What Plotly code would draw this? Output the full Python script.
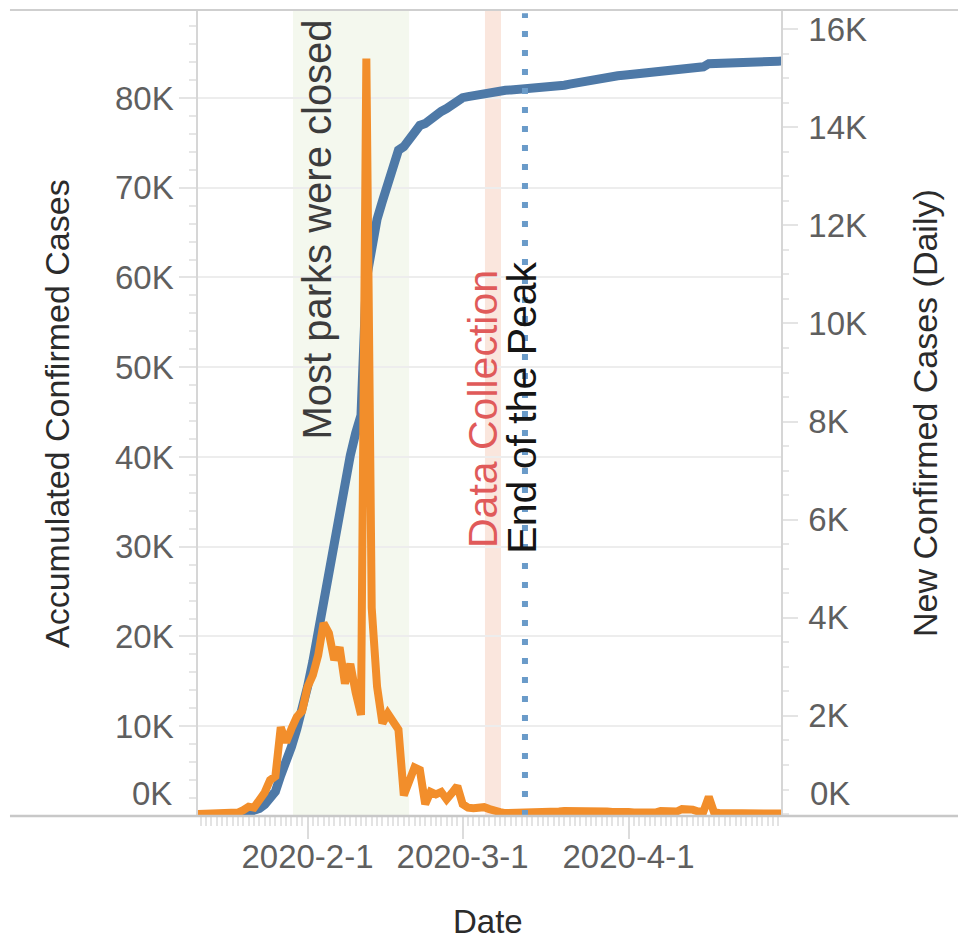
import pandas as pd
import plotly.graph_objects as go

# ---------------- data (values in thousands) ----------------
dates = pd.date_range("2020-01-11", "2020-04-30", freq="D")

new_jan = [0, 0, 0, 0, 0, 0.01, 0.01, 0.02, 0.03, 0.08, 0.15, 0.13, 0.26, 0.44,
           0.69, 0.77, 1.77, 1.46, 1.74, 1.98, 2.10]
new_feb = [2.59, 2.83, 3.24, 3.89, 3.69, 3.14, 3.40, 2.66, 3.06, 2.48, 2.02, 15.4,
           4.2, 2.6, 1.85, 2.05, 1.89, 1.72, 0.38, 0.7, 0.95, 0.9, 0.2, 0.45, 0.4,
           0.45, 0.3, 0.43, 0.57]
new_mar = [0.2, 0.13, 0.12, 0.14, 0.14, 0.1, 0.05, 0.04, 0.02, 0.02, 0.02, 0.01,
           0.01, 0.02, 0.02, 0.02, 0.02, 0.04, 0.05, 0.06, 0.06, 0.05, 0.09, 0.06,
           0.08, 0.07, 0.06, 0.05, 0.04, 0.05, 0.04]
new_apr = [0.04, 0.03, 0.02, 0.03, 0.04, 0.03, 0.06, 0.06, 0.04, 0.05, 0.1, 0.11,
           0.09, 0.05, 0.05, 0.35, 0.03, 0.02, 0.02, 0.01, 0.03, 0.01, 0.01, 0.01,
           0.01, 0.01, 0.01, 0.02, 0.01, 0.01]

acc_jan = [0.04, 0.04, 0.04, 0.04, 0.04, 0.05, 0.06, 0.12, 0.2, 0.29, 0.44, 0.57,
           0.83, 1.29, 1.98, 2.74, 4.52, 5.97, 7.71, 9.69, 11.79]
acc_feb = [14.38, 17.21, 20.44, 24.32, 28.02, 31.16, 34.55, 37.2, 40.17, 42.64,
           44.65, 59.8, 63.85, 66.49, 68.5, 70.55, 72.44, 74.19, 74.58, 75.47,
           76.29, 76.94, 77.15, 77.66, 78.06, 78.5, 78.82, 79.25, 79.82]
acc_mar = [80.03, 80.15, 80.27, 80.41, 80.55, 80.68, 80.77, 80.82, 80.86, 80.89,
           80.92, 80.95, 80.98, 81.01, 81.04, 81.07, 81.12, 81.2, 81.3, 81.42,
           81.55, 81.68, 81.8, 81.92, 82.03, 82.13, 82.23, 82.32, 82.4, 82.47, 82.53]
acc_apr = [82.58, 82.63, 82.68, 82.73, 82.78, 82.83, 82.9, 82.97, 83.03, 83.1,
           83.2, 83.3, 83.38, 83.43, 83.47, 83.82, 83.86, 83.89, 83.92, 83.95,
           83.97, 83.99, 84.01, 84.03, 84.05, 84.07, 84.08, 84.09, 84.1, 84.11]

new_cases = new_jan + new_feb + new_mar + new_apr
acc_cases = acc_jan + acc_feb + acc_mar + acc_apr

x_tick_vals = ["2020-02-01", "2020-03-01", "2020-04-01"]
x_tick_text = ["2020-2-1", "2020-3-1", "2020-4-1"]
left_ticks = [10, 20, 30, 40, 50, 60, 70, 80]
left_tick_text = ["10K", "20K", "30K", "40K", "50K", "60K", "70K", "80K"]
right_ticks = [2, 4, 6, 8, 10, 12, 14, 16]
right_tick_text = ["2K", "4K", "6K", "8K", "10K", "12K", "14K", "16K"]

parks_closed = ("2020-01-29 07:00", "2020-02-20 00:00")
data_collection = ("2020-03-05 04:00", "2020-03-08 04:00")
end_of_peak = "2020-03-12 15:30"

# ---------------- styling ----------------
FONT = "Liberation Sans, Arial, sans-serif"
TICK_COLOR = "#5f5f5f"
TITLE_COLOR = "#2b2b2b"
BLUE = "#4e79a7"
ORANGE = "#f28e2b"

fig = go.Figure()
fig.add_trace(go.Scatter(x=dates, y=acc_cases, yaxis="y", mode="lines",
                         line=dict(color=BLUE, width=9), name="Accumulated Confirmed Cases",
                         showlegend=False))
fig.add_trace(go.Scatter(x=dates, y=new_cases, yaxis="y2", mode="lines",
                         line=dict(color=ORANGE, width=8), name="New Confirmed Cases (Daily)",
                         showlegend=False))

shapes = [
    dict(type="rect", xref="x", yref="paper", x0=parks_closed[0], x1=parks_closed[1],
         y0=0, y1=1, fillcolor="#f4f8ee", line=dict(width=0), layer="below"),
    dict(type="rect", xref="x", yref="paper", x0=data_collection[0], x1=data_collection[1],
         y0=0, y1=1, fillcolor="#fae6dd", line=dict(width=0), layer="below"),
    dict(type="line", xref="x", yref="paper", x0=end_of_peak, x1=end_of_peak,
         y0=0, y1=0.996, line=dict(color="#6a9bc9", width=6, dash="6px,13px"), layer="above"),
    # top and bottom frame lines spanning the full width
    dict(type="line", xref="paper", yref="paper", x0=-0.3225, x1=1.33, y0=1, y1=1,
         line=dict(color="#cfcfcf", width=2), layer="above"),
    dict(type="line", xref="paper", yref="paper", x0=-0.3225, x1=1.33, y0=0, y1=0,
         line=dict(color="#c8c8c8", width=2.5), layer="above"),
]

annotations = [
    dict(text="Most parks were closed", x="2020-02-02 18:40", xref="x", y=0.4646, yref="paper",
         xanchor="center", yanchor="bottom", textangle=-90, showarrow=False,
         font=dict(family=FONT, size=40, color="#3c3c3c")),
    dict(text="Data Collection", x="2020-03-04 19:15", xref="x", y=0.33, yref="paper",
         xanchor="center", yanchor="bottom", textangle=-90, showarrow=False,
         font=dict(family=FONT, size=41, color="#e05a5a")),
    dict(text="End of the Peak", x="2020-03-12 02:10", xref="x", y=0.323, yref="paper",
         xanchor="center", yanchor="bottom", textangle=-90, showarrow=False,
         font=dict(family=FONT, size=41, color="#151515")),
    # axis titles
    dict(text="Accumulated Confirmed Cases", x=-0.2419, xref="paper", y=0.5, yref="paper",
         xanchor="center", yanchor="middle", textangle=-90, showarrow=False,
         font=dict(family=FONT, size=34, color=TITLE_COLOR)),
    dict(text="New Confirmed Cases (Daily)", x=1.247, xref="paper", y=0.5, yref="paper",
         xanchor="center", yanchor="middle", textangle=-90, showarrow=False,
         font=dict(family=FONT, size=34, color=TITLE_COLOR)),
    dict(text="Date", x=0.4974, xref="paper", y=-0.1303, yref="paper",
         xanchor="center", yanchor="middle", showarrow=False,
         font=dict(family=FONT, size=33, color=TITLE_COLOR)),
    # zero labels sit just above the baseline
    dict(text="0K", x=-0.0412, xref="paper", y=0.0285, yref="paper",
         xanchor="right", yanchor="middle", showarrow=False,
         font=dict(family=FONT, size=33, color=TICK_COLOR)),
    dict(text="0K", x=1.0463, xref="paper", y=0.0285, yref="paper",
         xanchor="left", yanchor="middle", showarrow=False,
         font=dict(family=FONT, size=33, color=TICK_COLOR)),
]

fig.update_layout(
    width=958, height=931,
    margin=dict(l=190, r=185, t=2, b=123, autoexpand=False),
    paper_bgcolor="white", plot_bgcolor="white",
    font=dict(family=FONT, size=33, color=TICK_COLOR),
    showlegend=False,
    shapes=shapes,
    annotations=annotations,
    xaxis=dict(
        type="date", range=["2020-01-11 12:48", "2020-04-29 12:00"],
        tickmode="array", tickvals=x_tick_vals, ticktext=x_tick_text,
        ticks="outside", ticklen=22, tickwidth=1.5, tickcolor="#dcdcdc",
        ticklabelstandoff=-11,
        showgrid=False, zeroline=False, showline=False,
        tickfont=dict(family=FONT, size=33, color=TICK_COLOR),
        minor=dict(ticks="outside", ticklen=9, tickwidth=1.5, tickcolor="#e3e3e3",
                   dtick=86400000, tick0="2020-01-01", showgrid=False),
    ),
    yaxis=dict(
        range=[0, 89.8], tickmode="array", tickvals=left_ticks, ticktext=left_tick_text,
        ticks="outside", ticklen=17, tickwidth=2, tickcolor="#e4e4e4",
        ticklabelstandoff=-1,
        showgrid=True, gridcolor="#ededed", gridwidth=2, zeroline=False,
        showline=True, linecolor="#d6d6d6", linewidth=1.5,
        tickfont=dict(family=FONT, size=33, color=TICK_COLOR),
        minor=dict(ticks="outside", ticklen=7, tickwidth=1.5, tickcolor="#e6e6e6",
                   dtick=2, tick0=0, showgrid=False),
    ),
    yaxis2=dict(
        overlaying="y", side="right",
        range=[-0.04, 16.39], tickmode="array", tickvals=right_ticks, ticktext=right_tick_text,
        ticks="outside", ticklen=15, tickwidth=2, tickcolor="#e4e4e4",
        ticklabelstandoff=4,
        showgrid=False, zeroline=False,
        showline=True, linecolor="#d6d6d6", linewidth=1.5,
        tickfont=dict(family=FONT, size=33, color=TICK_COLOR),
        minor=dict(ticks="outside", ticklen=6, tickwidth=1.5, tickcolor="#e6e6e6",
                   dtick=0.5, tick0=0, showgrid=False),
    ),
)

fig.write_html("out.html")
